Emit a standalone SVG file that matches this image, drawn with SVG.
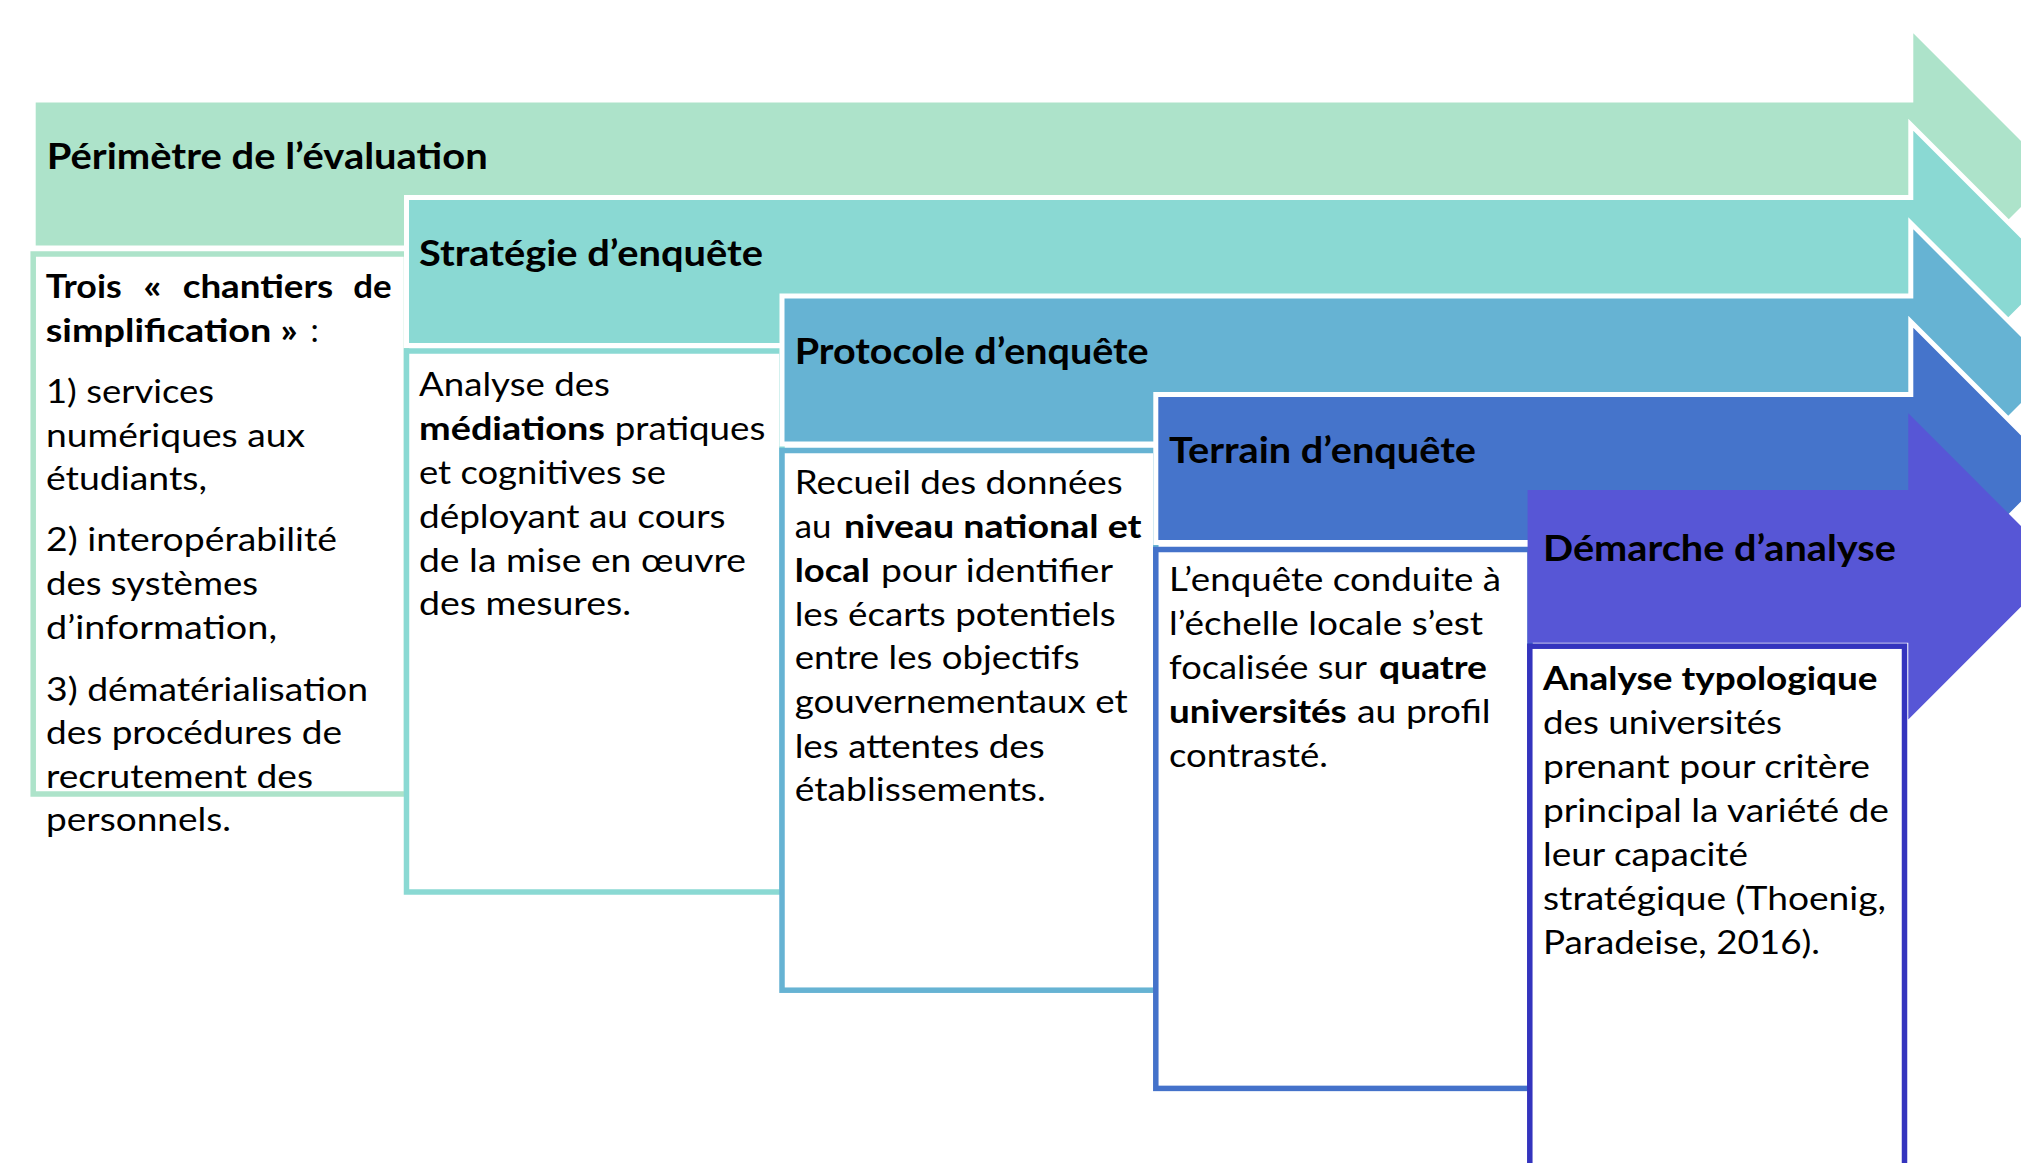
<svg xmlns="http://www.w3.org/2000/svg" width="2021" height="1163" viewBox="0 0 2021 1163">
<style>
.bg{fill:#FFFFFF}
.arr{stroke:#FFFFFF;stroke-width:10;stroke-linejoin:miter;paint-order:stroke}
.box{fill:#FFFFFF;stroke-width:5.5}
text{font-family:Lato,"Open Sans","Liberation Sans",sans-serif;fill:#000000}
.t{font-size:37px;font-weight:700}
.b{font-size:33px;font-weight:400}
.bb{font-weight:700}
</style>
<rect class="bg" x="0" y="0" width="2021" height="1163"/>
<g id="connectors"/>

<g id="step1">
<polygon class="arr" fill="#ADE3CA" points="35.7,102.5 1913.3,102.5 1913.3,33.3 2054,174 1913.3,314.7 1913.3,245.5 35.7,245.5"/>
<text class="t" x="46.7" y="169.3" textLength="441" lengthAdjust="spacingAndGlyphs">Périmètre de l’évaluation</text>
<rect class="box" stroke="#ADE3CA" x="33.2" y="254" width="373.3" height="540"/>
<text class="b bb" y="298"><tspan x="45.7" textLength="76" lengthAdjust="spacingAndGlyphs">Trois</tspan><tspan x="143.3" textLength="18.4" lengthAdjust="spacingAndGlyphs">«</tspan><tspan x="182.7" textLength="150.6" lengthAdjust="spacingAndGlyphs">chantiers</tspan><tspan x="353.3" textLength="38.4" lengthAdjust="spacingAndGlyphs">de</tspan></text>
<text class="b" y="342"><tspan class="bb" x="45.7" textLength="252" lengthAdjust="spacingAndGlyphs">simplification »</tspan><tspan x="310.5">:</tspan></text>
<text class="b" x="46" y="403" textLength="168" lengthAdjust="spacingAndGlyphs">1) services</text>
<text class="b" x="46" y="446.5" textLength="259" lengthAdjust="spacingAndGlyphs">numériques aux</text>
<text class="b" x="46" y="490" textLength="161" lengthAdjust="spacingAndGlyphs">étudiants,</text>
<text class="b" x="46" y="551" textLength="291" lengthAdjust="spacingAndGlyphs">2) interopérabilité</text>
<text class="b" x="46" y="595" textLength="212" lengthAdjust="spacingAndGlyphs">des systèmes</text>
<text class="b" x="46" y="639" textLength="231" lengthAdjust="spacingAndGlyphs">d’information,</text>
<text class="b" x="46" y="700.5" textLength="322" lengthAdjust="spacingAndGlyphs">3) dématérialisation</text>
<text class="b" x="46" y="744" textLength="296" lengthAdjust="spacingAndGlyphs">des procédures de</text>
<text class="b" x="46" y="787.5" textLength="267" lengthAdjust="spacingAndGlyphs">recrutement des</text>
<text class="b" x="46" y="831" textLength="185" lengthAdjust="spacingAndGlyphs">personnels.</text>
</g>

<g id="step2">
<polygon class="arr" fill="#8AD9D3" points="409,200 1913.3,200 1913.3,130.8 2054,271.5 1913.3,412.2 1913.3,343 409,343"/>
<text class="t" x="419" y="266" textLength="344" lengthAdjust="spacingAndGlyphs">Stratégie d’enquête</text>
<rect class="box" stroke="#8AD9D3" x="406.5" y="351" width="375.5" height="541"/>
<text class="b" x="419" y="396" textLength="191" lengthAdjust="spacingAndGlyphs">Analyse des</text>
<text class="b" y="440"><tspan class="bb" x="419" textLength="186" lengthAdjust="spacingAndGlyphs">médiations</tspan><tspan x="614.8" textLength="150.5" lengthAdjust="spacingAndGlyphs">pratiques</tspan></text>
<text class="b" x="419" y="484" textLength="247" lengthAdjust="spacingAndGlyphs">et cognitives se</text>
<text class="b" x="419" y="527.5" textLength="306.5" lengthAdjust="spacingAndGlyphs">déployant au cours</text>
<text class="b" x="419" y="571.5" textLength="327" lengthAdjust="spacingAndGlyphs">de la mise en œuvre</text>
<text class="b" x="419" y="615" textLength="212" lengthAdjust="spacingAndGlyphs">des mesures.</text>
</g>

<g id="step3">
<polygon class="arr" fill="#66B3D3" points="784.5,298.5 1913.3,298.5 1913.3,229.3 2054,370 1913.3,510.7 1913.3,441.5 784.5,441.5"/>
<text class="t" x="794.7" y="364" textLength="354" lengthAdjust="spacingAndGlyphs">Protocole d’enquête</text>
<rect class="box" stroke="#66B3D3" x="782" y="450.5" width="373.8" height="539.7"/>
<text class="b" x="794.7" y="494" textLength="328" lengthAdjust="spacingAndGlyphs">Recueil des données</text>
<text class="b" y="538"><tspan x="794.7" textLength="36.7" lengthAdjust="spacingAndGlyphs">au</tspan><tspan class="bb" x="844" textLength="297.6" lengthAdjust="spacingAndGlyphs">niveau national et</tspan></text>
<text class="b" y="582"><tspan class="bb" x="794.7" textLength="75" lengthAdjust="spacingAndGlyphs">local</tspan><tspan x="881" textLength="232" lengthAdjust="spacingAndGlyphs">pour identifier</tspan></text>
<text class="b" x="794.7" y="625.5" textLength="321" lengthAdjust="spacingAndGlyphs">les écarts potentiels</text>
<text class="b" x="794.7" y="669" textLength="285" lengthAdjust="spacingAndGlyphs">entre les objectifs</text>
<text class="b" x="794.7" y="713" textLength="333" lengthAdjust="spacingAndGlyphs">gouvernementaux et</text>
<text class="b" x="794.7" y="757.5" textLength="250" lengthAdjust="spacingAndGlyphs">les attentes des</text>
<text class="b" x="794.7" y="801" textLength="251" lengthAdjust="spacingAndGlyphs">établissements.</text>
</g>

<g id="step4">
<polygon class="arr" fill="#4574CB" points="1158.3,397 1913.3,397 1913.3,327.8 2054,468.5 1913.3,609.2 1913.3,540 1158.3,540"/>
<text class="t" x="1169" y="463" textLength="307" lengthAdjust="spacingAndGlyphs">Terrain d’enquête</text>
<rect class="box" stroke="#4472CA" x="1155.8" y="549.5" width="374.2" height="538.9"/>
<text class="b" x="1169" y="591" textLength="332" lengthAdjust="spacingAndGlyphs">L’enquête conduite à</text>
<text class="b" x="1169" y="635" textLength="314" lengthAdjust="spacingAndGlyphs">l’échelle locale s’est</text>
<text class="b" y="679"><tspan x="1169" textLength="198" lengthAdjust="spacingAndGlyphs">focalisée sur</tspan><tspan class="bb" x="1379" textLength="108" lengthAdjust="spacingAndGlyphs">quatre</tspan></text>
<text class="b" y="723"><tspan class="bb" x="1169" textLength="177.7" lengthAdjust="spacingAndGlyphs">universités</tspan><tspan x="1357" textLength="133.6" lengthAdjust="spacingAndGlyphs">au profil</tspan></text>
<text class="b" x="1169" y="767" textLength="159" lengthAdjust="spacingAndGlyphs">contrasté.</text>
</g>

<g id="step5">
<polygon fill="#5756D6" points="1527.6,490 1908.3,490 1908.3,413.3 2061.4,566.4 1908.3,719.5 1908.3,642.8 1527.6,642.8"/>
<text class="t" x="1543" y="561" textLength="353" lengthAdjust="spacingAndGlyphs">Démarche d’analyse</text>
<rect class="box" stroke="#3434BE" x="1529.8" y="646.2" width="374.7" height="560"/>
<text class="b bb" x="1543" y="690" textLength="334.6" lengthAdjust="spacingAndGlyphs">Analyse typologique</text>
<text class="b" x="1543" y="734" textLength="239" lengthAdjust="spacingAndGlyphs">des universités</text>
<text class="b" x="1543" y="778" textLength="327" lengthAdjust="spacingAndGlyphs">prenant pour critère</text>
<text class="b" x="1543" y="822" textLength="346" lengthAdjust="spacingAndGlyphs">principal la variété de</text>
<text class="b" x="1543" y="866" textLength="205" lengthAdjust="spacingAndGlyphs">leur capacité</text>
<text class="b" x="1543" y="910" textLength="343" lengthAdjust="spacingAndGlyphs">stratégique (Thoenig,</text>
<text class="b" x="1543" y="954" textLength="277" lengthAdjust="spacingAndGlyphs">Paradeise, 2016).</text>
</g>
</svg>
